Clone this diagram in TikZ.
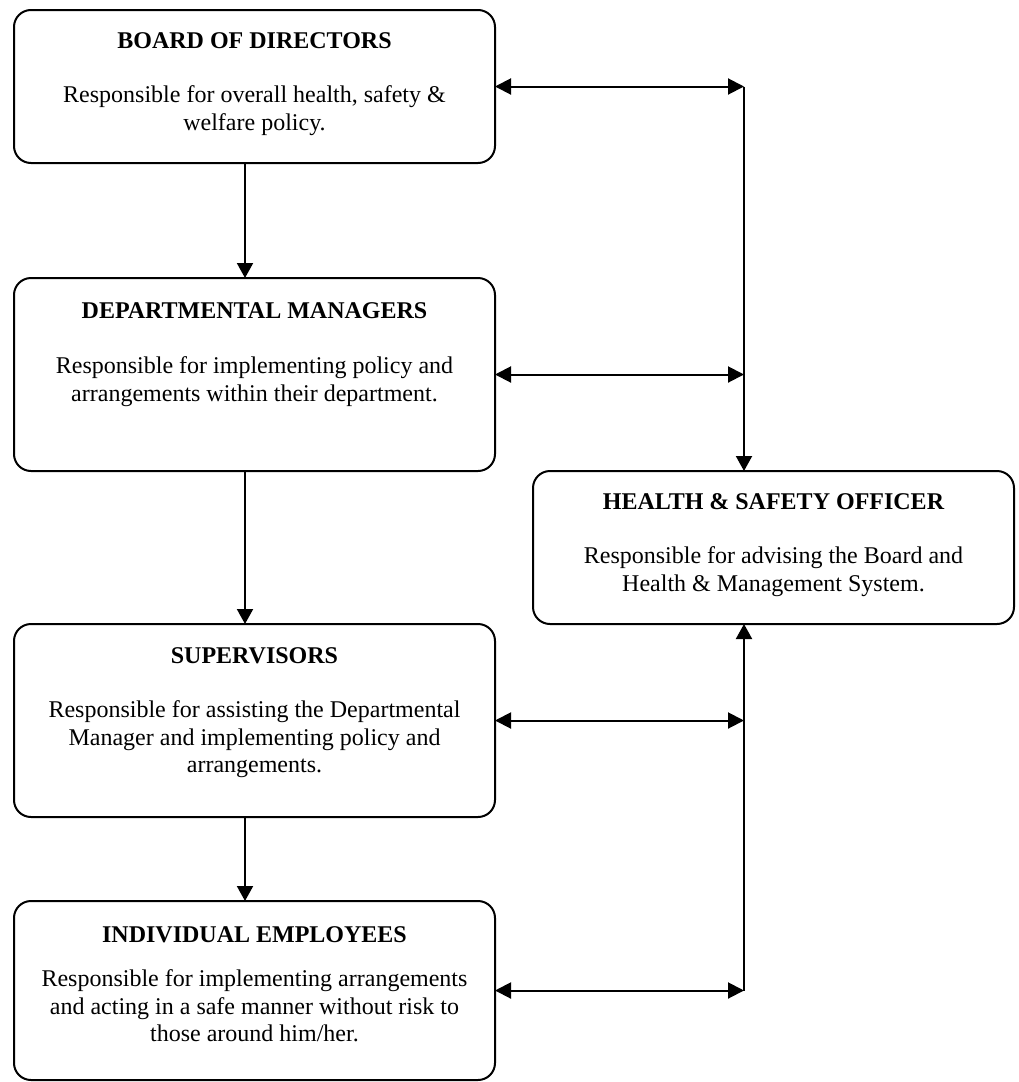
\documentclass[tikz,border=0pt]{standalone}
\usepackage{fontspec}
\setmainfont{Liberation Serif}
\usepackage{tikz}
\usetikzlibrary{positioning,arrows.meta}
\tikzset{
    role box/.style={rectangle, draw, line width=2pt, rounded corners=17pt, minimum width=481pt, inner sep=0pt, outer sep=0pt, anchor=north west},
    role title/.style={anchor=base, inner sep=0pt, font=\fontsize{24pt}{27.6pt}\selectfont\bfseries},
    role text/.style={anchor=north, inner sep=0pt, align=center, font=\fontsize{24pt}{27.6pt}\selectfont},
    flow arrow/.style={-{Triangle[length=15pt,width=16pt]}, line width=2pt},
    link arrow/.style={{Triangle[length=16pt,width=16pt]}-{Triangle[length=16pt,width=16pt]}, line width=2pt}
}

\begin{document}
\begin{tikzpicture}[x=1pt, y=-1pt]
    \useasboundingbox (0,0) rectangle (1018,1082);

    % Boxes
    \node[role box, minimum height=153pt] (board) at (14,10) {};
    \node[role box, minimum height=193pt] (managers) at (14,278) {};
    \node[role box, minimum height=193pt] (supervisors) at (14,624) {};
    \node[role box, minimum height=179pt] (employees) at (14,901) {};
    \node[role box, minimum height=153pt] (officer) at (533,471) {};

    % Headings and descriptions
    \node[role title] (board title) at ([yshift=-38pt]board.north) {BOARD OF DIRECTORS};
    \node[role text] (board text) at ([yshift=-75.5pt]board.north) {Responsible for overall health, safety \&\\welfare policy.};

    \node[role title] (managers title) at ([yshift=-40pt]managers.north) {DEPARTMENTAL MANAGERS};
    \node[role text] (managers text) at ([yshift=-78.5pt]managers.north) {Responsible for implementing policy and\\arrangements within their department.};

    \node[role title] (supervisors title) at ([yshift=-39pt]supervisors.north) {SUPERVISORS};
    \node[role text] (supervisors text) at ([yshift=-76.5pt]supervisors.north) {Responsible for assisting the Departmental\\Manager and implementing policy and\\arrangements.};

    \node[role title] (employees title) at ([yshift=-41pt]employees.north) {INDIVIDUAL EMPLOYEES};
    \node[role text] (employees text) at ([yshift=-68.5pt]employees.north) {Responsible for implementing arrangements\\and acting in a safe manner without risk to\\those around him/her.};

    \node[role title] (officer title) at ([yshift=-38pt]officer.north) {HEALTH \& SAFETY OFFICER};
    \node[role text] (officer text) at ([yshift=-75.5pt]officer.north) {Responsible for advising the Board and\\Health \& Management System.};

    % Chain of command
    \draw[flow arrow] ([xshift=-9.5pt]board.south) -- ([xshift=-9.5pt]managers.north);
    \draw[flow arrow] ([xshift=-9.5pt]managers.south) -- ([xshift=-9.5pt]supervisors.north);
    \draw[flow arrow] ([xshift=-9.5pt]supervisors.south) -- ([xshift=-9.5pt]employees.north);

    % Links to the officer
    \coordinate (spine) at (744,0);
    \draw[link arrow] (board.east) -- (board.east -| spine);
    \draw[link arrow] (managers.east) -- (managers.east -| spine);
    \draw[link arrow] (supervisors.east) -- (supervisors.east -| spine);
    \draw[link arrow] (employees.east) -- (employees.east -| spine);
    \draw[flow arrow] (board.east -| spine) -- (officer.north -| spine);
    \draw[flow arrow] (employees.east -| spine) -- (officer.south -| spine);
\end{tikzpicture}
\end{document}
